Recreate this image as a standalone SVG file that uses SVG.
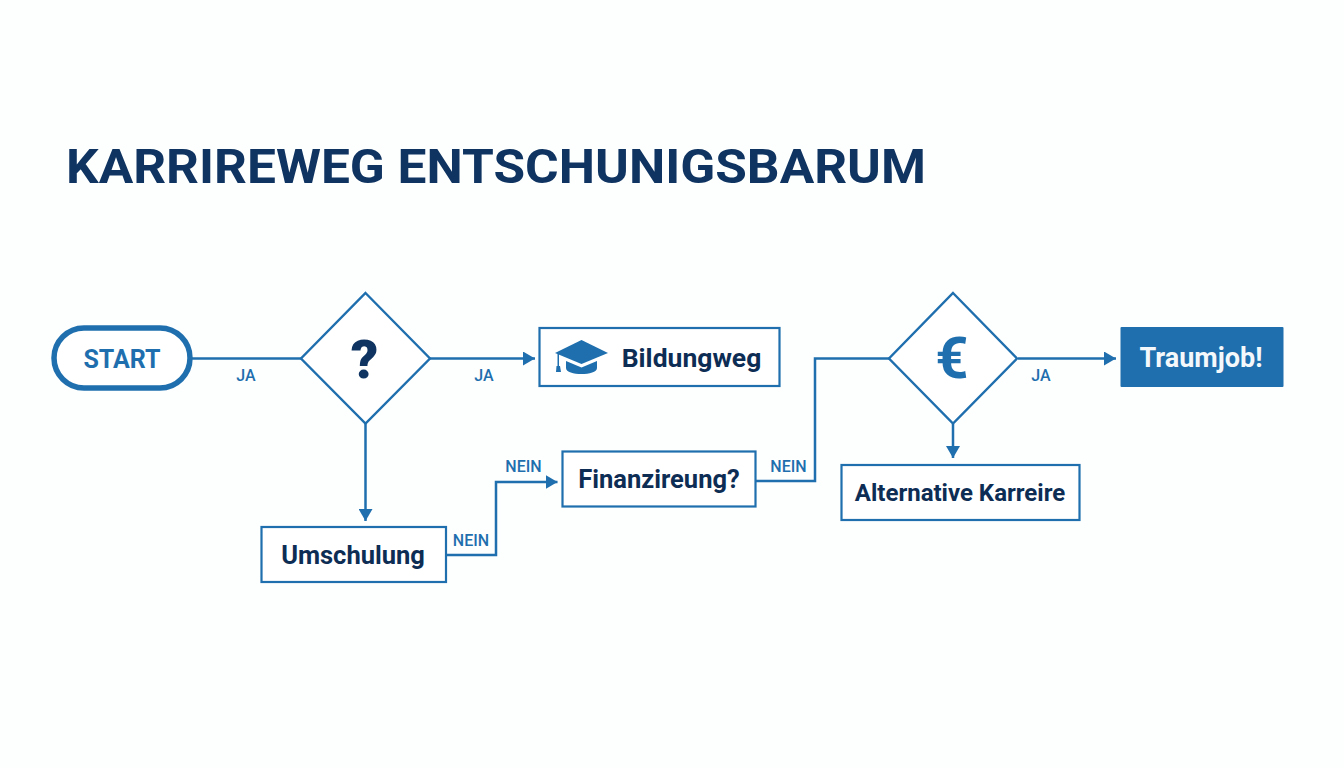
<svg xmlns="http://www.w3.org/2000/svg" width="1344" height="768" viewBox="0 0 1344 768">
<style>
text{font-family:Roboto,"Liberation Sans",sans-serif;text-anchor:middle}
.box{fill:#fff;stroke:#1f6fae;stroke-width:2.2}
.dia{fill:#fff;stroke:#1f6fae;stroke-width:2.4;stroke-linejoin:miter}
.t{font-size:25.500px;font-weight:700;fill:#0d2d55}
.l{font-size:16px;font-weight:500;fill:#1f6fae}
.c{fill:none;stroke:#1f6fae;stroke-width:2.5}
</style>
<defs>
<marker id="arrow" markerUnits="userSpaceOnUse" markerWidth="13" markerHeight="14" refX="12" refY="7" orient="auto"><path d="M0,0L12,7L0,14Z" fill="#1f6fae"/></marker>
</defs>
<rect width="1344" height="768" fill="#fdfefe"/>
<text x="66" y="183" style="text-anchor:start;font-size:48px;font-weight:700;fill:#0f3461" textLength="860" lengthAdjust="spacingAndGlyphs">KARRIREWEG ENTSCHUNIGSBARUM</text>
<g id="connectors">
<path class="c" d="M192,358.500H301"/>
<path class="c" d="M430,358.500H535" marker-end="url(#arrow)"/>
<path class="c" d="M365.500,424V521" marker-end="url(#arrow)"/>
<path class="c" d="M446,555H496V482H557.500" marker-end="url(#arrow)"/>
<path class="c" d="M756,481H815V358.500H889"/>
<path class="c" d="M1018,358.500H1116" marker-end="url(#arrow)"/>
<path class="c" d="M953,424V458" marker-end="url(#arrow)"/>
<text class="l" x="246" y="380.500">JA</text>
<text class="l" x="484" y="380.500">JA</text>
<text class="l" x="1041" y="380.500">JA</text>
<text class="l" x="471" y="545.500">NEIN</text>
<text class="l" x="523.500" y="471.500">NEIN</text>
<text class="l" x="788.500" y="471.500">NEIN</text>
</g>
<g id="start">
<rect x="54" y="328" width="136" height="60" rx="30" fill="#fff" stroke="#1f6fae" stroke-width="5.500"/>
<text x="122" y="367.500" style="font-size:25px;font-weight:700;fill:#1f6fae">START</text>
</g>
<g id="decision1">
<path class="dia" d="M365.500,293L430,358.500L365.500,423.500L301,358.500Z"/>
<text x="364.500" y="378" style="font-size:54px;font-weight:900;fill:#0f3461">?</text>
</g>
<g id="bildungsweg">
<rect class="box" x="539.500" y="328" width="240" height="58"/>
<g fill="#1f6fae">
<path d="M581.500,340L608,353L581.500,364L555,353Z"/>
<path d="M566,361L581.500,367.500L597,361V368C597,376 566,376 566,368Z"/>
<rect x="557.500" y="354" width="1.500" height="12"/>
<path d="M556.500,366H560L561,372H556Z"/>
</g>
<text class="t" x="691.500" y="367" style="font-size:26.500px">Bildungweg</text>
</g>
<g id="traumjob">
<rect x="1120.500" y="327" width="163" height="60" rx="1" fill="#1f6fae"/>
<text x="1201" y="366.500" style="font-size:27px;font-weight:700;fill:#f4f8fb">Traumjob!</text>
</g>
<g id="decision2">
<path class="dia" d="M953,293L1017,358.500L953,423.500L889,358.500Z"/>
<text x="952" y="378" style="font-size:58px;font-weight:700;fill:#1f6fae">€</text>
</g>
<g id="umschulung">
<rect class="box" x="261.500" y="527" width="184.500" height="55"/>
<text class="t" x="353" y="563.500">Umschulung</text>
</g>
<g id="finanzierung">
<rect class="box" x="562.500" y="451.500" width="193" height="55"/>
<text class="t" x="659" y="487.500">Finanzireung?</text>
</g>
<g id="alternative">
<rect class="box" x="841.500" y="465" width="238" height="55"/>
<text class="t" x="960" y="501" style="font-size:24px">Alternative Karreire</text>
</g>
</svg>
